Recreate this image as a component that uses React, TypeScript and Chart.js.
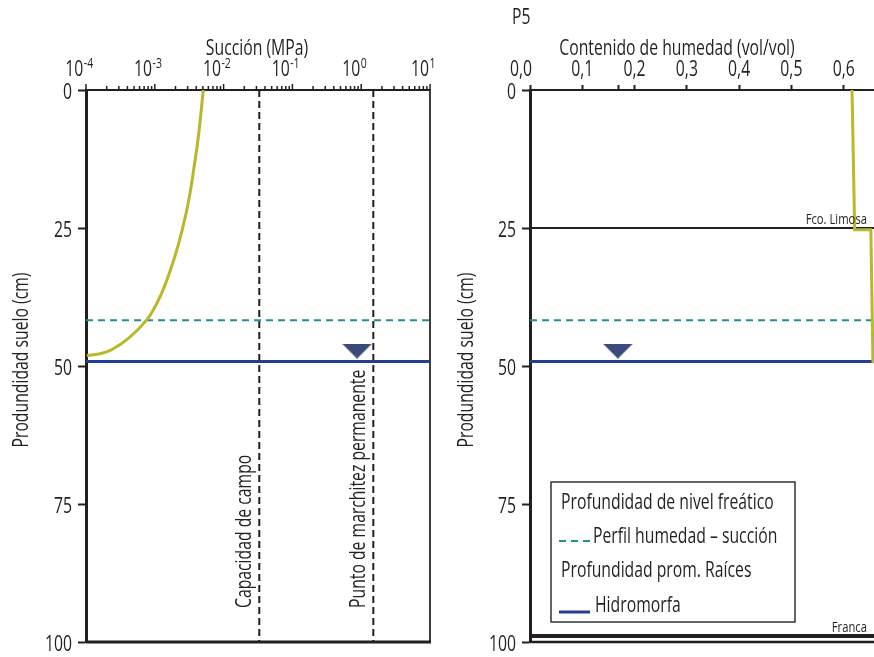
import React, { useEffect, useRef } from 'react';
import { Chart, registerables } from 'chart.js';

Chart.register(...registerables);

const FONT = '"Open Sans", "Noto Sans", sans-serif';
const SX = 0.75; // condensed look
const INK = '#231f20';
const YELLOW = '#b9b82b';
const TEAL = '#21908f';
const BLUE = '#243f8f';
const MARK = '#3a4a7b';

// ---- shared depth data (cm) ----
const depthTicks = [0, 25, 50, 75, 100];
const profileDepth = 41.7; // Perfil humedad – succión (teal dashed)
const rootDepth = 49.2; // Hidromorfa (blue)
const markerDepth = 47.3; // water-table triangle

// ---- left panel: suction ----
const suctionDepth = [0, 8.2, 14.1, 20.2, 25.1, 30.4, 35.3, 38.6, 41.7, 44.9, 47.1, 47.8, 48.1];
const suctionMPa = [5.07e-3, 4.32e-3, 3.71e-3, 3.09e-3, 2.53e-3, 1.93e-3, 1.41e-3, 1.076e-3, 7.57e-4, 4.22e-4, 2.31e-4, 1.55e-4, 1.03e-4];
const suctionDecades = [-4, -3, -2, -1, 0, 1];
const suctionMin = 1e-4;
const suctionMax = 10;
const fieldCapacityMPa = 0.033;
const wiltingPointMPa = 1.5;
const markerSuction = 0.87;

// ---- right panel: moisture ----
const moistureDepth = [0, 25.3, 25.3, 49.5];
const moistureVol = [0.616, 0.621, 0.652, 0.656];
const moistureTicks = [0, 0.1, 0.17, 0.2, 0.3, 0.4, 0.5, 0.6];
const moistureLabels = ['0,0', '0,1', '', '0,2', '0,3', '0,4', '0,5', '0,6'];
const moistureMin = 0;
const moistureMax = 0.658;
const markerMoisture = 0.168;
const horizonNames = ['Fco. Limosa', 'Franca'];
const horizonDepths = [25, 98.9];

const legendLines = [
  'Profundidad de nivel freático',
  'Perfil humedad – succión',
  'Profundidad prom. Raíces',
  'Hidromorfa',
];

function drawText(
  ctx: CanvasRenderingContext2D,
  s: string,
  x: number,
  y: number,
  size: number,
  align: CanvasTextAlign = 'left',
  baseline: CanvasTextBaseline = 'alphabetic',
  rotate = false
) {
  ctx.save();
  ctx.translate(x, y);
  if (rotate) ctx.rotate(-Math.PI / 2);
  ctx.scale(SX, 1);
  ctx.font = `${size}px ${FONT}`;
  ctx.fillStyle = INK;
  ctx.textAlign = align;
  ctx.textBaseline = baseline;
  ctx.fillText(s, 0, 0);
  ctx.restore();
}

function textWidth(ctx: CanvasRenderingContext2D, s: string, size: number) {
  ctx.save();
  ctx.font = `${size}px ${FONT}`;
  const w = ctx.measureText(s).width * SX;
  ctx.restore();
  return w;
}

function seg(ctx: CanvasRenderingContext2D, x1: number, y1: number, x2: number, y2: number) {
  ctx.beginPath();
  ctx.moveTo(x1, y1);
  ctx.lineTo(x2, y2);
  ctx.stroke();
}

function depthAxis(width: number) {
  return {
    type: 'linear',
    reverse: true,
    min: 0,
    max: 100,
    afterBuildTicks: (s: any) => {
      s.ticks = depthTicks.map((v) => ({ value: v }));
    },
    ticks: { display: false },
    grid: { drawOnChartArea: false, tickLength: 8, tickColor: INK, tickWidth: 2 },
    border: { color: INK, width: 3 },
    afterFit: (s: any) => {
      s.width = width;
      s.paddingTop = 0;
      s.paddingBottom = 0;
    },
  };
}

function drawDepthLabels(ctx: CanvasRenderingContext2D, chart: any) {
  const y = chart.scales.y;
  const a = chart.chartArea;
  depthTicks.forEach((v) => {
    drawText(ctx, String(v), a.left - 14, y.getPixelForValue(v) + 9, 21, 'right');
  });
}

function hLine(x0: number, x1: number, y: number) {
  return [{ x: x0, y }, { x: x1, y }];
}

function makeTriangle() {
  const c = document.createElement('canvas');
  c.width = 30;
  c.height = 15;
  const g = c.getContext('2d')!;
  g.fillStyle = MARK;
  g.beginPath();
  g.moveTo(0, 0);
  g.lineTo(30, 0);
  g.lineTo(15, 15);
  g.closePath();
  g.fill();
  return c;
}

const leftDecor = {
  id: 'leftDecor',
  afterDraw(chart: any) {
    const { ctx, chartArea: a, scales } = chart;
    const x = scales.x;
    ctx.save();
    // frame
    ctx.strokeStyle = '#3d3d3d';
    ctx.lineWidth = 2;
    seg(ctx, a.right, a.top, a.right, a.bottom);
    ctx.strokeStyle = INK;
    ctx.lineWidth = 3;
    seg(ctx, a.left, a.bottom, a.right + 1, a.bottom);
    // log ticks
    ctx.lineWidth = 1.5;
    for (const d of suctionDecades) {
      for (let m = 1; m <= 9; m++) {
        const v = m * Math.pow(10, d);
        if (v > suctionMax * 1.0001) break;
        const px = x.getPixelForValue(v);
        seg(ctx, px, a.top, px, a.top - (m === 1 ? 6 : 4));
      }
    }
    // tick labels 10^n
    for (const d of suctionDecades) {
      const px = x.getPixelForValue(Math.pow(10, d)) - 7;
      const exp = String(d);
      const w1 = textWidth(ctx, '10', 21);
      const w2 = textWidth(ctx, exp, 14);
      const start = px - (w1 + w2) / 2;
      drawText(ctx, '10', start, 76, 21);
      drawText(ctx, exp, start + w1 + 0.5, 68, 14);
    }
    drawDepthLabels(ctx, chart);
    // title
    drawText(ctx, 'Succión (MPa)', (a.left + a.right) / 2 - 1, 55, 21, 'center');
    // y title
    drawText(ctx, 'Produndidad suelo (cm)', 22, 360, 21, 'center', 'middle', true);
    // vertical line labels
    drawText(ctx, 'Capacidad de campo', x.getPixelForValue(fieldCapacityMPa) - 8, a.bottom - 34, 21, 'left', 'alphabetic', true);
    drawText(ctx, 'Punto de marchitez permanente', x.getPixelForValue(wiltingPointMPa) - 8, a.bottom - 34, 21, 'left', 'alphabetic', true);
    ctx.restore();
  },
};

const rightDecor = {
  id: 'rightDecor',
  afterDraw(chart: any) {
    const { ctx, chartArea: a, scales } = chart;
    const x = scales.x;
    const y = scales.y;
    ctx.save();
    // bottom frame
    ctx.strokeStyle = INK;
    ctx.lineWidth = 2.5;
    seg(ctx, a.left, a.bottom, a.right, a.bottom);
    // x labels
    moistureTicks.forEach((v, i) => {
      const lab = moistureLabels[i];
      if (!lab) return;
      const px = x.getPixelForValue(v);
      if (i === 0) drawText(ctx, lab, px + 2, 76, 21, 'right');
      else drawText(ctx, lab, px, 76, 21, 'center');
    });
    drawDepthLabels(ctx, chart);
    // titles
    drawText(ctx, 'Contenido de humedad (vol/vol)', 237, 55, 21, 'center');
    drawText(ctx, 'P5', 72, 24, 21, 'left');
    drawText(ctx, 'Produndidad suelo (cm)', 27, 360, 21, 'center', 'middle', true);
    // horizon labels
    horizonNames.forEach((n, i) => {
      drawText(ctx, n, a.right - 7, y.getPixelForValue(horizonDepths[i]) - 4, 15, 'right');
    });
    // legend box
    const bx = a.left + 21;
    const by = 482;
    ctx.fillStyle = '#ffffff';
    ctx.fillRect(bx, by, 244, 140);
    ctx.strokeStyle = '#333333';
    ctx.lineWidth = 1.5;
    ctx.strokeRect(bx, by, 244, 140);
    drawText(ctx, legendLines[0], bx + 10, 509, 21);
    ctx.strokeStyle = TEAL;
    ctx.lineWidth = 2;
    ctx.setLineDash([7, 5]);
    seg(ctx, bx + 8, 541, bx + 39, 541);
    ctx.setLineDash([]);
    drawText(ctx, legendLines[1], bx + 42, 543, 21);
    drawText(ctx, legendLines[2], bx + 10, 577, 21);
    ctx.strokeStyle = BLUE;
    ctx.lineWidth = 3;
    seg(ctx, bx + 8, 612, bx + 39, 612);
    drawText(ctx, legendLines[3], bx + 44, 612, 21);
    ctx.restore();
  },
};

function lineDs(data: any[], color: string, width: number, dash: number[] = []) {
  return {
    data,
    borderColor: color,
    backgroundColor: color,
    borderWidth: width,
    borderDash: dash,
    showLine: true,
    pointRadius: 0,
    pointHoverRadius: 0,
    fill: false,
  };
}

export default function App() {
  const leftRef = useRef<HTMLCanvasElement>(null);
  const rightRef = useRef<HTMLCanvasElement>(null);

  useEffect(() => {
    const tri = makeTriangle();
    const common = {
      responsive: false,
      animation: false,
      events: [],
      plugins: { legend: { display: false }, tooltip: { enabled: false } },
    };

    const left = new Chart(leftRef.current as HTMLCanvasElement, {
      type: 'scatter',
      data: {
        datasets: [
          { ...lineDs(suctionMPa.map((v, i) => ({ x: v, y: suctionDepth[i] })), YELLOW, 3), tension: 0.4 },
          lineDs(hLine(suctionMin, suctionMax, profileDepth), TEAL, 2, [7, 5]),
          lineDs(hLine(suctionMin, suctionMax, rootDepth), BLUE, 3),
          lineDs([{ x: fieldCapacityMPa, y: 0 }, { x: fieldCapacityMPa, y: 100 }], INK, 2, [7, 4]),
          lineDs([{ x: wiltingPointMPa, y: 0 }, { x: wiltingPointMPa, y: 100 }], INK, 2, [7, 4]),
          {
            data: [{ x: markerSuction, y: markerDepth }],
            pointStyle: tri,
            pointRadius: 8,
            showLine: false,
          },
        ],
      },
      options: {
        ...common,
        layout: { autoPadding: false, padding: { left: 0, top: 0, right: 10, bottom: 15 } },
        scales: {
          x: {
            type: 'logarithmic',
            position: 'top',
            min: suctionMin,
            max: suctionMax,
            ticks: { display: false },
            grid: { display: false },
            border: { color: INK, width: 2 },
            afterFit: (s: any) => {
              s.height = 90;
              s.paddingLeft = 0;
              s.paddingRight = 0;
            },
          },
          y: depthAxis(86),
        },
      } as any,
      plugins: [leftDecor],
    } as any);

    const right = new Chart(rightRef.current as HTMLCanvasElement, {
      type: 'scatter',
      data: {
        datasets: [
          lineDs(moistureVol.map((v, i) => ({ x: v, y: moistureDepth[i] })), YELLOW, 3),
          lineDs(hLine(moistureMin, moistureMax, horizonDepths[0]), INK, 2),
          lineDs(hLine(moistureMin, moistureMax, horizonDepths[1]), INK, 4),
          lineDs(hLine(moistureMin, moistureMax, profileDepth), TEAL, 2, [7, 5]),
          lineDs(hLine(moistureMin, moistureMax, rootDepth), BLUE, 3),
          {
            data: [{ x: markerMoisture, y: markerDepth }],
            pointStyle: tri,
            pointRadius: 8,
            showLine: false,
          },
        ],
      },
      options: {
        ...common,
        layout: { autoPadding: false, padding: { left: 0, top: 0, right: 0, bottom: 15 } },
        scales: {
          x: {
            type: 'linear',
            position: 'top',
            min: moistureMin,
            max: moistureMax,
            afterBuildTicks: (s: any) => {
              s.ticks = moistureTicks.map((v) => ({ value: v }));
            },
            ticks: { display: false },
            grid: { drawOnChartArea: false, tickLength: 5, tickColor: INK, tickWidth: 2 },
            border: { color: INK, width: 2 },
            afterFit: (s: any) => {
              s.height = 90;
              s.paddingLeft = 0;
              s.paddingRight = 0;
            },
          },
          y: depthAxis(90),
        },
      } as any,
      plugins: [rightDecor],
    } as any);

    return () => {
      left.destroy();
      right.destroy();
    };
  }, []);

  return (
    <div style={{ position: 'absolute', left: 0, top: 0, width: 874, height: 657, background: '#ffffff', overflow: 'hidden' }}>
      <canvas ref={leftRef} width={440} height={657} style={{ position: 'absolute', left: 0, top: 0 }} />
      <canvas ref={rightRef} width={434} height={657} style={{ position: 'absolute', left: 440, top: 0 }} />
    </div>
  );
}
